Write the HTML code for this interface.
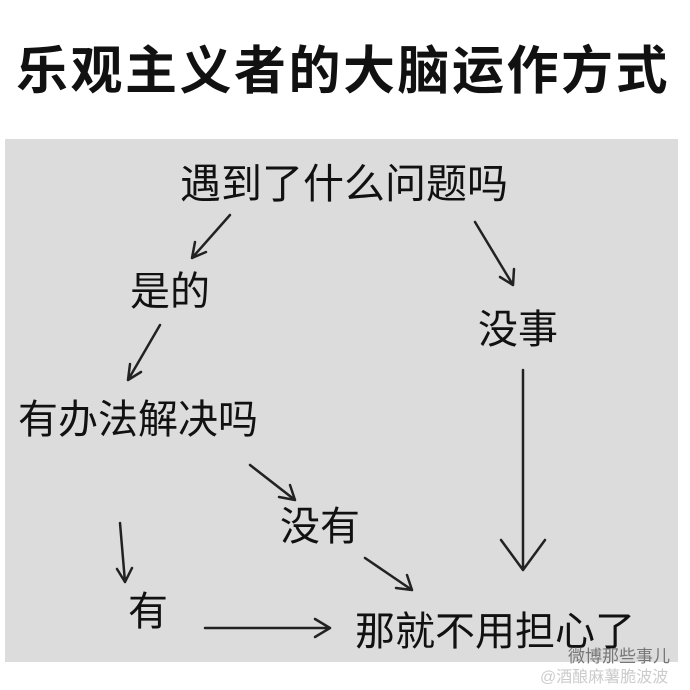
<!DOCTYPE html>
<html><head><meta charset="utf-8"><style>
body{margin:0;width:690px;height:690px;background:#fff;position:relative;overflow:hidden;font-family:"Liberation Sans","Noto Sans CJK SC",sans-serif;}
.t{position:absolute;white-space:nowrap;color:#111;line-height:1;}
#box{position:absolute;left:5px;top:139px;width:673px;height:523px;background:#dcdcdc;}
</style></head><body>
<div class="t" style="left:16px;top:46px;font-size:52px;font-weight:bold;letter-spacing:2.5px">乐观主义者的大脑运作方式</div>
<div id="box"></div>
<div class="t" style="left:180px;top:164px;font-size:41px">遇到了什么问题吗</div>
<div class="t" style="left:130px;top:272px;font-size:40px">是的</div>
<div class="t" style="left:478px;top:310px;font-size:40px">没事</div>
<div class="t" style="left:18px;top:400px;font-size:40px">有办法解决吗</div>
<div class="t" style="left:280px;top:507px;font-size:40px">没有</div>
<div class="t" style="left:128px;top:592px;font-size:40px">有</div>
<div class="t" style="left:355px;top:612px;font-size:40px">那就不用担心了</div>
<svg width="690" height="690" style="position:absolute;left:0;top:0" fill="none" stroke="#222" stroke-width="2.5" stroke-linecap="round">
<path d="M230 215L192 258M192 258l3-16M192 258l14-6"/>
<path d="M475 222L513 285M513 285l-13-8M513 285l1-16"/>
<path d="M160 325L128 380M128 380l2-16M128 380l13-8"/>
<path d="M250 465L295 500M295 500l-16-3M295 500l-5-15"/>
<path d="M523 370L523 570M523 570l-22-30M523 570l22-30"/>
<path d="M120 523L125 582M125 582l-8-13M125 582l7-14"/>
<path d="M365 558L412 590M412 590l-16-2M412 590l-5-15"/>
<path d="M205 628L330 628M330 628l-15-9M330 628l-15 9"/>
</svg>
<div class="t" style="left:568px;top:648px;font-size:17px;color:#777">微博那些事儿</div>
<div class="t" style="left:540px;top:670px;font-size:16px;color:#ccc">@酒酿麻薯脆波波</div>
</body></html>
